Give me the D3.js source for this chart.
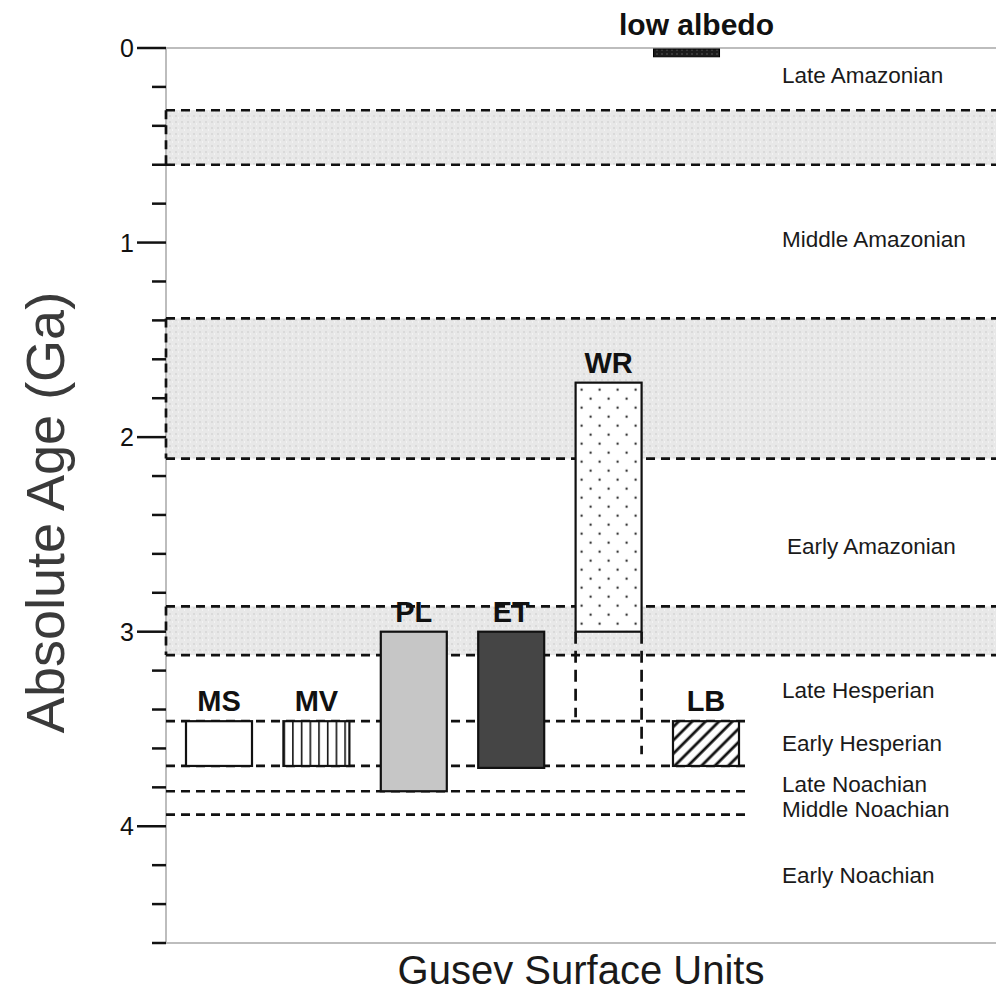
<!DOCTYPE html>
<html><head><meta charset="utf-8">
<script src="https://cdn.jsdelivr.net/npm/d3@7"></script>
<style>body{margin:0;background:#fff} svg{display:block} text{font-family:"Liberation Sans",Arial,Helvetica,sans-serif}</style>
</head><body><svg id="c" width="996" height="997"></svg>
<script>
// ---- data (ages in Ga) ----
const units = ["MS","MV","PL","ET","WR","LB"];
const unitSlot = [0,1,2,3,4,5];
const ageYoung = [3.46,3.46,3.0,3.0,1.72,3.46];
const ageOld = [3.69,3.69,3.82,3.70,3.0,3.69];
const lowAlbedoLabel = "low albedo";
const lowAlbedoSlot = 4.8;
const lowAlbedoAge = [0,0.04];
const wrExtensionOld = [3.44, 3.63]; // left edge, right edge
const transitionBands = [[0.32,0.60],[1.39,2.11],[2.87,3.12]];
const epochBoundaries = [3.46,3.69,3.82,3.94];
const periodNames = ["Late Amazonian","Middle Amazonian","Early Amazonian","Late Hesperian","Early Hesperian","Late Noachian","Middle Noachian","Early Noachian"];
const periodLabelAge = [0.14,0.98,2.56,3.30,3.57,3.78,3.91,4.25];
const majorTicks = [0,1,2,3,4];
const tickLabels = ["0","1","2","3","4"];
const minorStep = 0.2;
const ageDomain = [0,4.6];
const yTitle = "Absolute Age (Ga)";
const xTitle = "Gusev Surface Units";

// ---- layout ----
const svg = d3.select("#c");
const axisX = 166, rightEdge = 996, shortEdge = 750;
const y = d3.scaleLinear().domain(ageDomain).range([48,943]);
const x = d3.scaleLinear().domain([0,5]).range([219,706]);
const barW = 66;
const dash = "9,6";
const dashW = 2.7;

const defs = svg.append("defs");
// band texture
const bp = defs.append("pattern").attr("id","band").attr("patternUnits","userSpaceOnUse").attr("width",6).attr("height",6);
bp.append("rect").attr("width",6).attr("height",6).attr("fill","#e8e8e8");
bp.append("rect").attr("x",1).attr("y",1).attr("width",2).attr("height",2).attr("fill","#dadada");
bp.append("rect").attr("x",4).attr("y",3).attr("width",1).attr("height",2).attr("fill","#f3f3f3");
// vertical hatch (MV)
const vp = defs.append("pattern").attr("id","vhatch").attr("patternUnits","userSpaceOnUse").attr("width",8.7).attr("height",10)
  .attr("x", x(1)-barW/2);
vp.append("rect").attr("width",8.7).attr("height",10).attr("fill","#fff");
vp.append("line").attr("x1",0.8).attr("x2",0.8).attr("y1",0).attr("y2",10).attr("stroke","#111").attr("stroke-width",1.6);
// diagonal hatch (LB)
const dp = defs.append("pattern").attr("id","dhatch").attr("patternUnits","userSpaceOnUse").attr("width",9.5).attr("height",10)
  .attr("patternTransform","rotate(45)");
dp.append("rect").attr("width",9.5).attr("height",10).attr("fill","#fff");
dp.append("line").attr("x1",2).attr("x2",2).attr("y1",0).attr("y2",10).attr("stroke","#111").attr("stroke-width",2.8);
// dots (WR)
const sp = defs.append("pattern").attr("id","dots").attr("patternUnits","userSpaceOnUse").attr("width",18).attr("height",18)
  .attr("x", x(4)-barW/2).attr("y", y(ageYoung[4]));
sp.append("rect").attr("width",18).attr("height",18).attr("fill","#fff");
sp.append("circle").attr("cx",6).attr("cy",7).attr("r",1.2).attr("fill","#333");
sp.append("circle").attr("cx",15).attr("cy",16).attr("r",1.2).attr("fill","#333");
// low albedo texture
const lp = defs.append("pattern").attr("id","lowalb").attr("patternUnits","userSpaceOnUse").attr("width",5).attr("height",4);
lp.append("rect").attr("width",5).attr("height",4).attr("fill","#1c1c1c");
lp.append("rect").attr("x",1).attr("y",1.5).attr("width",2).attr("height",1).attr("fill","#555");

const fills = {MS:"#ffffff", MV:"url(#vhatch)", PL:"#c6c6c6", ET:"#454545", WR:"url(#dots)", LB:"url(#dhatch)"};

// transition bands
svg.selectAll("rect.band").data(transitionBands).join("rect").attr("class","band")
  .attr("x",axisX).attr("width",rightEdge-axisX)
  .attr("y",d=>y(d[0])).attr("height",d=>y(d[1])-y(d[0])).attr("fill","url(#band)");

// axis frame (grey)
const grey = "#bdbdbd";
svg.append("line").attr("x1",axisX).attr("x2",axisX).attr("y1",y(ageDomain[0])).attr("y2",y(ageDomain[1])).attr("stroke",grey).attr("stroke-width",2);
svg.append("line").attr("x1",axisX).attr("x2",rightEdge).attr("y1",y(ageDomain[0])).attr("y2",y(ageDomain[0])).attr("stroke",grey).attr("stroke-width",2);
svg.append("line").attr("x1",axisX).attr("x2",rightEdge).attr("y1",y(ageDomain[1])).attr("y2",y(ageDomain[1])).attr("stroke",grey).attr("stroke-width",2);

// band dashed edges
const bandEdges = transitionBands.flat();
svg.selectAll("line.bedge").data(bandEdges).join("line").attr("class","bedge")
  .attr("x1",axisX).attr("x2",rightEdge).attr("y1",d=>y(d)).attr("y2",d=>y(d))
  .attr("stroke","#111").attr("stroke-width",dashW).attr("stroke-dasharray",dash);
svg.selectAll("line.bside").data(transitionBands).join("line").attr("class","bside")
  .attr("x1",axisX).attr("x2",axisX).attr("y1",d=>y(d[0])).attr("y2",d=>y(d[1]))
  .attr("stroke","#111").attr("stroke-width",dashW).attr("stroke-dasharray",dash);
// epoch boundaries
svg.selectAll("line.ebound").data(epochBoundaries).join("line").attr("class","ebound")
  .attr("x1",axisX).attr("x2",shortEdge).attr("y1",d=>y(d)).attr("y2",d=>y(d))
  .attr("stroke","#111").attr("stroke-width",dashW).attr("stroke-dasharray",dash);

// WR extension dashed verticals
const wi = units.indexOf("WR");
svg.selectAll("line.wrext").data(wrExtensionOld).join("line").attr("class","wrext")
  .attr("x1",(d,i)=>x(unitSlot[wi]) + (i===0?-barW/2:barW/2)).attr("x2",(d,i)=>x(unitSlot[wi]) + (i===0?-barW/2:barW/2))
  .attr("y1",y(ageOld[wi])).attr("y2",d=>y(d))
  .attr("stroke","#111").attr("stroke-width",dashW).attr("stroke-dasharray","12,7");

// y ticks
const minor = d3.range(ageDomain[0], ageDomain[1]+1e-9, minorStep);
svg.selectAll("line.tick").data(minor).join("line").attr("class","tick")
  .attr("x1",d=> majorTicks.some(m=>Math.abs(m-d)<1e-6) ? axisX-29 : axisX-14).attr("x2",axisX)
  .attr("y1",d=>y(d)).attr("y2",d=>y(d)).attr("stroke","#111").attr("stroke-width",2.5);
svg.selectAll("text.tl").data(majorTicks).join("text").attr("class","tl")
  .attr("x",axisX-32).attr("y",d=>y(d)).attr("dy","0.36em").attr("text-anchor","end")
  .attr("font-size",25).attr("fill","#111").text((d,i)=>tickLabels[i]);

// bars
const bars = units.map((u,i)=>({u, s:unitSlot[i], a:ageYoung[i], b:ageOld[i]}));
svg.selectAll("rect.bar").data(bars).join("rect").attr("class","bar")
  .attr("x",d=>x(d.s)-barW/2).attr("width",barW)
  .attr("y",d=>y(d.a)).attr("height",d=>y(d.b)-y(d.a))
  .attr("fill",d=>fills[d.u]).attr("stroke","#111").attr("stroke-width",2.2);
svg.selectAll("text.bl").data(bars).join("text").attr("class","bl")
  .attr("x",d=>x(d.s)).attr("y",d=>y(d.a)-10).attr("text-anchor","middle")
  .attr("font-size",29).attr("font-weight","bold").attr("fill","#111").text(d=>d.u);

// low albedo
svg.append("rect").attr("x",x(lowAlbedoSlot)-barW/2).attr("width",barW)
  .attr("y",y(lowAlbedoAge[0])+1).attr("height",y(lowAlbedoAge[1])-y(lowAlbedoAge[0]))
  .attr("fill","url(#lowalb)").attr("stroke","#000").attr("stroke-width",1);
svg.append("text").attr("x",x(lowAlbedoSlot)+10).attr("y",y(lowAlbedoAge[0])-13).attr("text-anchor","middle")
  .attr("font-size",30).attr("font-weight","bold").attr("fill","#111").text(lowAlbedoLabel);

// period labels
svg.selectAll("text.pl").data(periodNames).join("text").attr("class","pl")
  .attr("x",(d,i)=> i===2 ? 787 : 782).attr("y",(d,i)=>y(periodLabelAge[i])).attr("dy","0.36em")
  .attr("font-size",22.5).attr("fill","#1a1a1a").text(d=>d);

// titles
svg.append("text").attr("transform",`translate(64,${(290+735)/2}) rotate(-90)`).attr("text-anchor","middle")
  .attr("font-size",54).attr("fill","#3a3a3a").text(yTitle);
svg.append("text").attr("x",581).attr("y",984).attr("text-anchor","middle")
  .attr("font-size",40).attr("fill","#1a1a1a").text(xTitle);
</script></body></html>
